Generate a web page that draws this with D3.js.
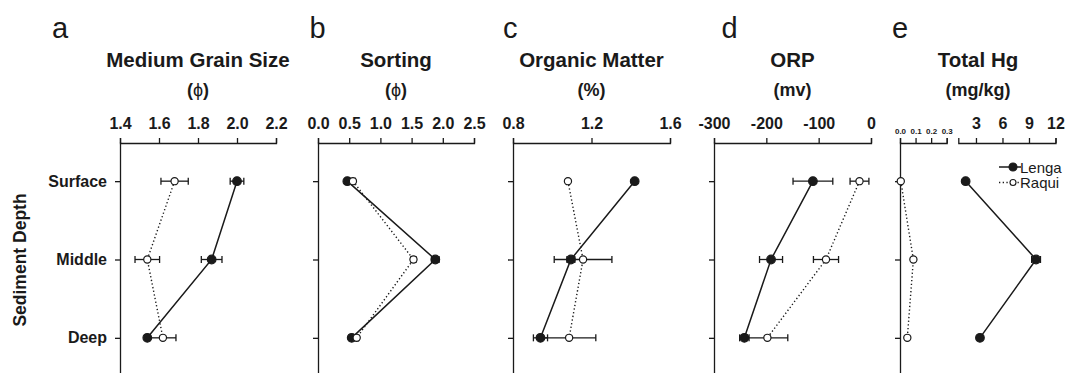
<!DOCTYPE html>
<html>
<head>
<meta charset="utf-8">
<script src="https://cdn.jsdelivr.net/npm/d3@7"></script>
<style>
  body { margin: 0; background: #fff; }
  svg { display: block; font-family: "Liberation Sans", Arial, sans-serif; }
  .axis path, .axis line { stroke: #1a1a1a; stroke-width: 1.3; }
  .axis text { fill: #1a1a1a; font-weight: bold; font-size: 16px; }
</style>
</head>
<body>
<div id="chart"></div>
<script>
const depths = ["Surface", "Middle", "Deep"];

// a - medium grain size (phi)
const grainTicks = [1.4, 1.6, 1.8, 2.0, 2.2];
const grainLenga = [2.00, 1.87, 1.54];
const grainLengaSe = [0.035, 0.053, 0.01];
const grainRaqui = [1.68, 1.54, 1.62];
const grainRaquiSe = [0.07, 0.063, 0.067];

// b - sorting (phi)
const sortTicks = [0, 0.5, 1.0, 1.5, 2.0, 2.5];
const sortLenga = [0.47, 1.88, 0.54];
const sortLengaSe = [0.04, 0.06, 0.04];
const sortRaqui = [0.56, 1.53, 0.62];
const sortRaquiSe = [0.04, 0.04, 0.03];

// c - organic matter (%)
const omTicks = [0.8, 1.2, 1.6];
const omLenga = [1.42, 1.095, 0.94];
const omLengaSe = [0.005, 0.02, 0.036];
const omRaqui = [1.08, 1.157, 1.086];
const omRaquiSe = [0.005, 0.147, 0.136];

// d - ORP (mv)
const orpTicks = [-300, -200, -100, 0];
const orpLenga = [-111, -191, -242];
const orpLengaSe = [38, 22, 9];
const orpRaqui = [-22, -86, -198];
const orpRaquiSe = [18, 24, 39];

// e - total Hg (mg/kg), broken axis
const hgTicksLow = [0, 0.1, 0.2, 0.3];
const hgTicksHigh = [3, 6, 9, 12];
const hgLenga = [1.83, 9.8, 3.45];
const hgLengaSe = [0.1, 0.5, 0.1];
const hgRaqui = [0.005, 0.086, 0.047];
const hgRaquiSe = [0.003, 0.004, 0.003];

const width = 1070, height = 373;
const axisY = 143;
const ink = "#1a1a1a";

const svg = d3.select("#chart").append("svg")
    .attr("width", width)
    .attr("height", height);

const y = d3.scalePoint().domain(depths).range([142, 377]).padding(0.5);

const fmt1 = d3.format(".1f");
const fmtInt = d => String(d);

function topAxis(g, x, ticks, fmt, fontSize, pad) {
    g.append("g")
        .attr("class", "axis")
        .attr("transform", "translate(0," + axisY + ")")
        .call(d3.axisTop(x).tickValues(ticks).tickFormat(fmt).tickSize(5).tickPadding(pad))
        .call(a => a.selectAll("text").style("font-size", fontSize + "px"))
        .call(a => a.select(".domain").attr("fill", "none"));
}

function drawSeries(g, vals, se, x, filled) {
    let pts = depths.map((d, i) => ({ d: d, v: vals[i], e: se[i] }));

    g.append("path")
        .datum(pts)
        .attr("fill", "none")
        .attr("stroke", ink)
        .attr("stroke-width", filled ? 1.5 : 1.4)
        .attr("stroke-dasharray", filled ? null : "1.3,2.4")
        .attr("d", d3.line().x(p => x(p.v)).y(p => y(p.d)));

    let eb = g.append("g").attr("stroke", ink).attr("stroke-width", 1.3);
    pts.forEach(p => {
        let x0 = x(p.v - p.e), x1 = x(p.v + p.e), yy = y(p.d);
        eb.append("line").attr("x1", x0).attr("x2", x1).attr("y1", yy).attr("y2", yy);
        eb.append("line").attr("x1", x0).attr("x2", x0).attr("y1", yy - 3.5).attr("y2", yy + 3.5);
        eb.append("line").attr("x1", x1).attr("x2", x1).attr("y1", yy - 3.5).attr("y2", yy + 3.5);
    });

    g.append("g").selectAll("circle")
        .data(pts)
        .enter()
        .append("circle")
        .attr("cx", p => x(p.v))
        .attr("cy", p => y(p.d))
        .attr("r", filled ? 4.3 : 3.6)
        .attr("fill", filled ? ink : "#fff")
        .attr("stroke", ink)
        .attr("stroke-width", 1.2);
}

const panels = [
    { letter: "a", letterX: 52, title: "Medium Grain Size", unit: "phi", range: [120, 276], domain: [1.4, 2.2],
      ticks: grainTicks, fmt: fmt1, lenga: grainLenga, lengaSe: grainLengaSe, raqui: grainRaqui, raquiSe: grainRaquiSe, rowLabels: true },
    { letter: "b", letterX: 309.5, title: "Sorting", unit: "phi", range: [318, 474], domain: [0, 2.5],
      ticks: sortTicks, fmt: fmt1, lenga: sortLenga, lengaSe: sortLengaSe, raqui: sortRaqui, raquiSe: sortRaquiSe },
    { letter: "c", letterX: 503, title: "Organic Matter", unit: "(%)", range: [513, 670], domain: [0.8, 1.6],
      ticks: omTicks, fmt: fmt1, lenga: omLenga, lengaSe: omLengaSe, raqui: omRaqui, raquiSe: omRaquiSe },
    { letter: "d", letterX: 721.5, title: "ORP", unit: "(mv)", range: [714, 871], domain: [-300, 0],
      ticks: orpTicks, fmt: fmtInt, lenga: orpLenga, lengaSe: orpLengaSe, raqui: orpRaqui, raquiSe: orpRaquiSe }
];

function headings(g, p, cx) {
    g.append("text")
        .attr("x", p.letterX).attr("y", 38)
        .attr("font-size", 29)
        .attr("fill", ink)
        .text(p.letter);
    g.append("text")
        .attr("x", cx).attr("y", 67)
        .attr("text-anchor", "middle")
        .attr("font-size", 20.5).attr("font-weight", "bold")
        .attr("fill", ink)
        .text(p.title);
    let u = g.append("text")
        .attr("x", cx).attr("y", 96)
        .attr("text-anchor", "middle")
        .attr("font-size", 18).attr("font-weight", "bold")
        .attr("fill", ink);
    if (p.unit === "phi") {
        u.append("tspan").text("(");
        u.append("tspan").attr("font-weight", "normal").text("ϕ");
        u.append("tspan").text(")");
    } else {
        u.text(p.unit);
    }
}

function leftAxis(g, x0, labels) {
    g.append("g")
        .attr("class", "axis")
        .attr("transform", "translate(" + x0 + ",0)")
        .call(d3.axisLeft(y).tickSize(5).tickSizeOuter(0).tickPadding(8)
            .tickFormat(labels ? (d => d) : ""));
}

panels.forEach(p => {
    let g = svg.append("g");
    let x = d3.scaleLinear().domain(p.domain).range(p.range);
    headings(g, p, (p.range[0] + p.range[1]) / 2);
    topAxis(g, x, p.ticks, p.fmt, 16, 9);
    leftAxis(g, p.range[0], p.rowLabels);
    drawSeries(g, p.lenga, p.lengaSe, x, true);
    drawSeries(g, p.raqui, p.raquiSe, x, false);
});

// panel e with a broken top axis
{
    let g = svg.append("g");
    let xLow = d3.scaleLinear().domain([0, 0.3]).range([900, 946.7]);
    let xHigh = d3.scaleLinear().domain([1, 12]).range([958.3, 1055.5]);
    headings(g, { letter: "e", letterX: 892, title: "Total Hg", unit: "(mg/kg)" }, 978);
    topAxis(g, xLow, hgTicksLow, fmt1, 8, 4);
    topAxis(g, xHigh, hgTicksHigh, fmtInt, 16, 9);
    leftAxis(g, 900, false);

    // Lenga on the high scale, Raqui on the low scale
    drawSeries(g, hgLenga, hgLengaSe, xHigh, true);
    drawSeries(g, hgRaqui, hgRaquiSe, xLow, false);

    // legend
    let lg = g.append("g").attr("transform", "translate(999,0)");
    [["Lenga", true, 167], ["Raqui", false, 182.5]].forEach(([name, filled, yy]) => {
        lg.append("line")
            .attr("x1", 0).attr("x2", 22).attr("y1", yy).attr("y2", yy)
            .attr("stroke", ink).attr("stroke-width", filled ? 1.5 : 1.3)
            .attr("stroke-dasharray", filled ? null : "1.3,2.4");
        lg.append("circle")
            .attr("cx", 14).attr("cy", yy)
            .attr("r", filled ? 4 : 3)
            .attr("fill", filled ? ink : "#fff")
            .attr("stroke", ink).attr("stroke-width", 1.1);
        lg.append("text")
            .attr("x", 21).attr("y", yy + 5.5)
            .attr("font-size", 15)
            .attr("fill", ink)
            .text(name);
    });
}

// shared y axis title
svg.append("text")
    .attr("transform", "translate(26,260) rotate(-90)")
    .attr("text-anchor", "middle")
    .attr("font-size", 17.5).attr("font-weight", "bold")
    .attr("fill", ink)
    .text("Sediment Depth");
</script>
</body>
</html>
